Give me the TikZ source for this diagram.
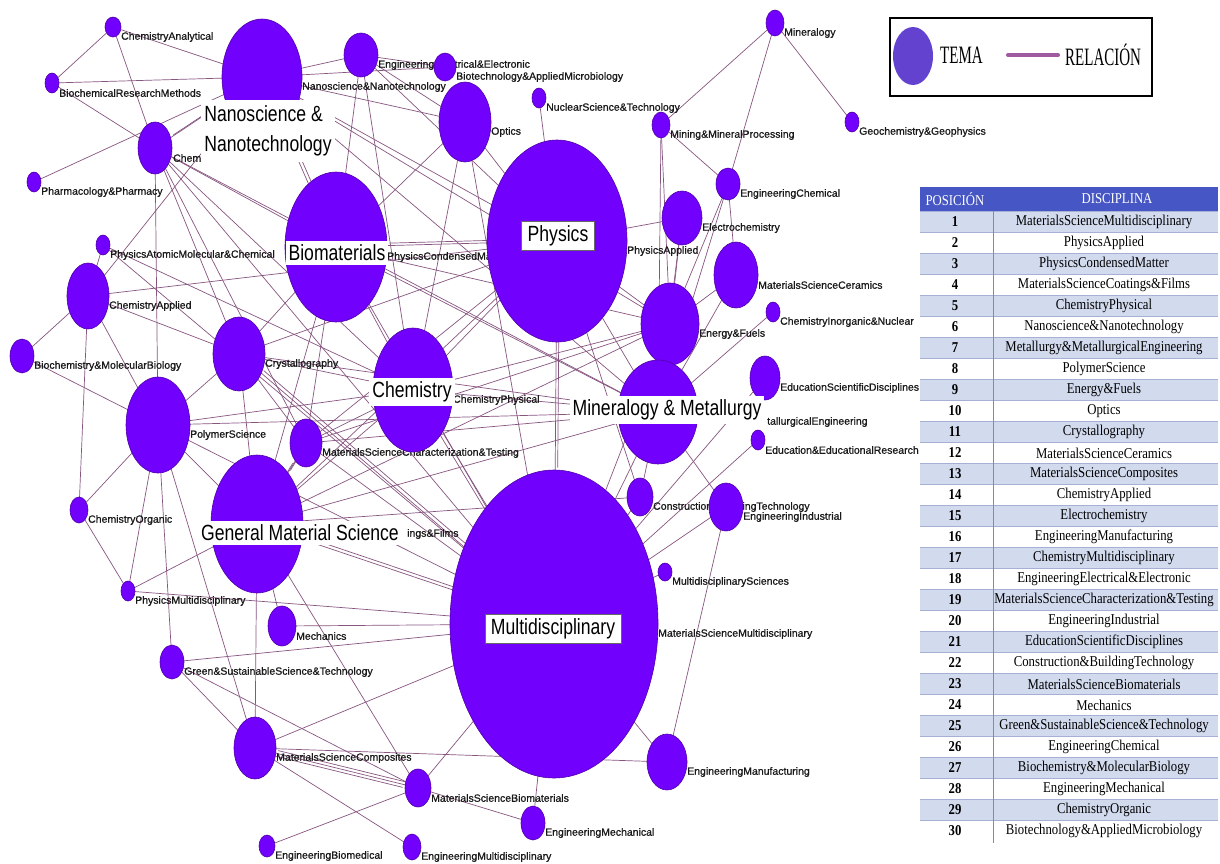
\documentclass[tikz,border=0pt]{standalone}
\usepackage{fontspec}
\newfontfamily\lblfont[FakeBold=0.8]{Liberation Sans}
\newfontfamily\bigfont[FakeStretch=0.8]{Liberation Sans}
\newfontfamily\tabfont[FakeStretch=0.85]{Liberation Serif}
\newfontfamily\legfont[FakeStretch=0.6]{Liberation Serif}
\usetikzlibrary{shapes.geometric,calc}
\pgfdeclarelayer{bgfill}
\pgfdeclarelayer{edges}
\pgfdeclarelayer{labels}
\pgfsetlayers{bgfill,edges,labels,main}
\definecolor{topicc}{RGB}{113,0,252}
\definecolor{topicb}{RGB}{80,0,170}
\definecolor{edgec}{RGB}{135,85,128}
\definecolor{legc}{RGB}{98,66,206}
\definecolor{legl}{RGB}{160,90,160}
\definecolor{hdrc}{RGB}{70,86,196}
\definecolor{rowc}{RGB}{210,218,238}
\definecolor{rowl}{RGB}{165,176,212}
\newcommand\gn[6]{%
  \node[topic,minimum width=2*#4pt,minimum height=2*#5pt] (#1) at (#2,#3) {};
  \begin{pgfonlayer}{labels}
    \node[lbl] (#1-l) at ($(#1.east)+(0,10)$) {#6};
  \end{pgfonlayer}}
\begin{document}
\begin{tikzpicture}[x=1pt,y=-1pt,
  topic/.style={ellipse,fill=topicc,draw=topicb,line width=0.6pt,inner sep=0pt,outer sep=0pt},
  lbl/.style={anchor=west,inner sep=0pt,font=\lblfont\fontsize{10.5}{12}\selectfont,text=black!90},
  edge/.style={draw=edgec,line width=0.7pt},
  big/.style={fill=white,inner xsep=3pt,inner ysep=4pt,font=\bigfont\fontsize{22}{27}\selectfont},
  bigb/.style={big,draw=black!60,line width=0.6pt,inner xsep=6pt},
  tabtxt/.style={inner sep=0pt,font=\tabfont\fontsize{15}{17}\selectfont},
  tabnum/.style={inner sep=0pt,font=\tabfont\bfseries\fontsize{15}{17}\selectfont}]
\useasboundingbox (0,0) rectangle (1220,863);
\begin{pgfonlayer}{bgfill}
  \fill[white] (0,0) rectangle (1220,863);
\end{pgfonlayer}

% ---------- topic nodes ----------
\gn{CA}{113}{27}{8}{10}{ChemistryAnalytical}
\gn{BRM}{52}{83}{7}{10}{BiochemicalResearchMethods}
\gn{NANO}{262}{77}{40}{58}{Nanoscience\&Nanotechnology}
\gn{EE}{361}{55}{17}{22}{EngineeringElectrical\&Electronic}
\gn{BIOT}{445}{67}{11}{14}{Biotechnology\&AppliedMicrobiology}
\gn{OPT}{465}{122}{26}{40}{Optics}
\gn{NUC}{539}{98}{7}{10}{NuclearScience\&Technology}
\gn{MIN}{775}{23}{9}{13}{Mineralogy}
\gn{MMP}{661}{125}{9}{13}{Mining\&MineralProcessing}
\gn{GEO}{852}{122}{7}{10}{Geochemistry\&Geophysics}
\gn{ECH}{728}{184}{12}{16}{EngineeringChemical}
\gn{ELC}{682}{218}{20}{27}{Electrochemistry}
\gn{PHA}{557}{241}{70}{101}{PhysicsApplied}
\gn{CER}{736}{275}{22}{33}{MaterialsScienceCeramics}
\gn{CIN}{773}{312}{7}{10}{ChemistryInorganic\&Nuclear}
\gn{EF}{670}{324}{29}{41}{Energy\&Fuels}
\gn{ESD}{765}{378}{15}{22}{EducationScientificDisciplines}
\gn{EER}{758}{440}{7}{10}{Education\&EducationalResearch}
\gn{CBT}{640}{497}{13}{19}{Construction\&BuildingTechnology}
\gn{EIND}{726}{507}{17}{24}{EngineeringIndustrial}
\gn{MDS}{665}{572}{7}{9}{MultidisciplinarySciences}
\gn{MSM}{554}{624}{104}{154}{MaterialsScienceMultidisciplinary}
\gn{EMAN}{667}{762}{20}{28}{EngineeringManufacturing}
\gn{EMECH}{533}{823}{12}{17}{EngineeringMechanical}
\gn{EMD}{412}{847}{9}{13}{EngineeringMultidisciplinary}
\gn{MSB}{418}{788}{13}{19}{MaterialsScienceBiomaterials}
\gn{EBM}{267}{846}{8}{11}{EngineeringBiomedical}
\gn{COMP}{255}{748}{21}{31}{MaterialsScienceComposites}
\gn{GREEN}{172}{662}{12}{17}{Green\&SustainableScience\&Technology}
\gn{MECH}{282}{626}{14}{20}{Mechanics}
\gn{PMD}{128}{591}{7}{10}{PhysicsMultidisciplinary}
\gn{CHAR}{306}{443}{16}{24}{MaterialsScienceCharacterization\&Testing}
\gn{CP}{413}{390}{40}{62}{ChemistryPhysical}
\gn{POL}{158}{425}{32}{48}{PolymerScience}
\gn{CRY}{239}{354}{26}{37}{Crystallography}
\gn{CAP}{88}{296}{21}{33}{ChemistryApplied}
\gn{BMB}{22}{356}{12}{17}{Biochemistry\&MolecularBiology}
\gn{CO}{79}{510}{9}{13}{ChemistryOrganic}
\gn{PAMC}{103}{245}{7}{10}{PhysicsAtomicMolecular\&Chemical}
\gn{PHAR}{34}{182}{7}{10}{Pharmacology\&Pharmacy}
\gn{PCM}{336}{247}{51}{75}{PhysicsCondensedMatter}
% nodes whose labels are mostly hidden: only the visible part is printed
\node[topic,minimum width=80pt,minimum height=104pt] (MET) at (658,412) {};
\node[topic,minimum width=92pt,minimum height=138pt] (COAT) at (257,524) {};
\node[topic,minimum width=34pt,minimum height=52pt] (CM) at (155,148) {};
\begin{pgfonlayer}{labels}
  \node[lbl] (MET-l) at (767,422) {tallurgicalEngineering};
  \node[lbl] (COAT-l) at (407,534) {ings\&Films};
  \node[lbl] (CM-l) at (173,158) {Chem};
\end{pgfonlayer}

% ---------- relations ----------
\begin{pgfonlayer}{edges}
\foreach \a/\b in {CA/BRM,CA/NANO,CA/CM,BRM/NANO,BRM/CM,PHAR/NANO,CM/NANO,CAP/NANO,
  NANO/EE,NANO/BIOT,NANO/OPT,NANO/PHA,NANO/EF,NANO/MET,NANO/PCM,
  EE/PCM,EE/OPT,EE/CP,EE/PHA,EE/BIOT,NUC/PHA,
  MIN/MMP,MIN/ECH,MIN/GEO,MMP/ECH,MMP/EF,MMP/MET,ECH/EF,ECH/MET,ECH/CER,
  ELC/PHA,ELC/EF,ELC/MET,CER/EF,CER/MET,CIN/MET,ESD/MSM,EER/MSM,
  CBT/MSM,CBT/MET,CBT/PHA,EIND/MSM,EIND/EMAN,EIND/MET,MDS/MSM,
  EMAN/MSM,COMP/EMAN,EMECH/MSM,EMECH/MSB,
  MSB/MSM,MSB/COMP,MSB/GREEN,MSB/EBM,MSB/COAT,
  COMP/MSM,COMP/COAT,COMP/POL,COMP/GREEN,COMP/EMD,
  GREEN/MSM,GREEN/POL,PMD/MSM,PMD/POL,PMD/COAT,PMD/CO,MECH/MSM,MECH/COAT,
  COAT/MSM,COAT/CP,COAT/CHAR,COAT/PHA,COAT/MET,COAT/EF,COAT/PCM,COAT/POL,COAT/CRY,COAT/CBT,
  CO/POL,CO/CAP,POL/CAP,POL/BMB,POL/CM,POL/CRY,POL/CP,POL/MSM,POL/MET,
  CAP/BMB,CAP/CRY,CAP/PAMC,CAP/PHA,PAMC/MSM,PAMC/CP,
  CM/CRY,CM/CP,CM/MSM,CM/CHAR,CM/PCM,CM/MET,
  CRY/PCM,CRY/CP,CRY/MSM,CRY/CHAR,CRY/PHA,CRY/MET,
  CHAR/CP,CHAR/MSM,CHAR/PCM,CHAR/MET,CHAR/PHA,CHAR/EF,
  PCM/PHA,PCM/CP,PCM/OPT,PCM/MSM,PCM/MET,PCM/EF,
  CP/PHA,CP/MSM,CP/MET,CP/EF,PHA/MSM,PHA/MET,PHA/EF,
  MET/MSM,MET/EF,EF/MSM,OPT/PHA,OPT/MSM,OPT/CP}
  \draw[edge] (\a) -- (\b);
\foreach \a/\b in {MSB/COMP,NANO/PCM,COAT/MSM,COAT/CHAR,CRY/MSM,PCM/PHA,CP/MSM,PHA/MSM,CM/NANO}
  \draw[edge,transform canvas={shift={(2.5pt,2.5pt)}}] (\a) -- (\b);
\foreach \a/\b in {MSB/COMP,COAT/CHAR}
  \draw[edge,transform canvas={shift={(-2.5pt,-2.5pt)}}] (\a) -- (\b);
\end{pgfonlayer}

% ---------- group labels ----------
\node[big,align=left,font=\bigfont\fontsize{22}{30}\selectfont,inner ysep=6pt] (gNANO) at (268,131) {Nanoscience \&\\Nanotechnology};
\node[big] (gPCM) at (337,253) {Biomaterials};
\node[bigb] (gPHA) at (558,236) {Physics};
\node[big] (gCP) at (412,392) {Chemistry};
\node[big] (gMET) at (667,410) {Mineralogy \& Metallurgy};
\node[big] (gCOAT) at (300,533) {General Material Science};
\node[bigb] (gMSM) at (553,629) {Multidisciplinary};

% ---------- legend ----------
\node[draw=black,line width=2.5pt,minimum width=262pt,minimum height=78pt,inner sep=0pt] (leg) at (1021,57) {};
\node[ellipse,fill=legc,minimum width=40pt,minimum height=58pt,inner sep=0pt] (legn) at (913,56) {};
\node[anchor=west,inner sep=0pt,font=\legfont\fontsize{25}{28}\selectfont] (legt) at (940,55) {TEMA};
\coordinate (legA) at (1008,55);
\coordinate (legB) at (1058,55);
\draw[legl,line width=4pt,line cap=round] (legA) -- (legB);
\node[anchor=west,inner sep=0pt,font=\legfont\fontsize{25}{28}\selectfont] (legr) at (1065,55) {RELACIÓN};

% ---------- table ----------
\fill[hdrc] (920,187) rectangle (1218,211);
\node[tabtxt,text=white] (hpos) at (955,199) {POSICIÓN};
\node[tabtxt,text=white] (hdis) at (1117,199) {DISCIPLINA};
\foreach \i/\t in {1/MaterialsScienceMultidisciplinary,2/PhysicsApplied,3/PhysicsCondensedMatter,
  4/MaterialsScienceCoatings\&Films,5/ChemistryPhysical,6/Nanoscience\&Nanotechnology,
  7/Metallurgy\&MetallurgicalEngineering,8/PolymerScience,9/Energy\&Fuels,10/Optics,
  11/Crystallography,12/MaterialsScienceCeramics,13/MaterialsScienceComposites,14/ChemistryApplied,
  15/Electrochemistry,16/EngineeringManufacturing,17/ChemistryMultidisciplinary,
  18/EngineeringElectrical\&Electronic,19/MaterialsScienceCharacterization\&Testing,
  20/EngineeringIndustrial,21/EducationScientificDisciplines,22/Construction\&BuildingTechnology,
  23/MaterialsScienceBiomaterials,24/Mechanics,25/Green\&SustainableScience\&Technology,
  26/EngineeringChemical,27/Biochemistry\&MolecularBiology,28/EngineeringMechanical,
  29/ChemistryOrganic,30/Biotechnology\&AppliedMicrobiology}{
  \pgfmathsetmacro\yy{211+(\i-1)*21}
  \ifodd\i\relax
    \fill[rowc] (920,\yy) rectangle (1218,\yy+21);
  \else
    \fill[white] (920,\yy) rectangle (1218,\yy+21);
  \fi
  \draw[rowl,line width=0.5pt] (920,\yy) -- (1218,\yy);
  \node[tabnum] (n\i) at (955,\yy+11) {\i};
  \node[tabtxt] (d\i) at (1104,\yy+11) {\t};
}
\draw[black!45,line width=0.5pt] (993,211) -- (993,843);
\end{tikzpicture}
\end{document}
